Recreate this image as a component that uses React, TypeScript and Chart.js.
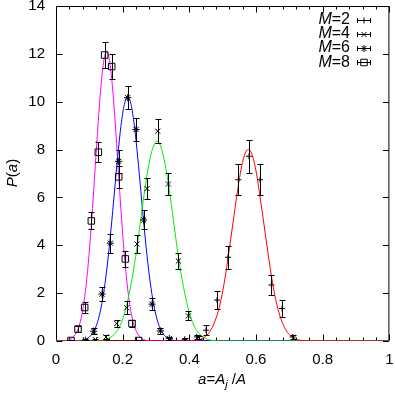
import React, { useEffect, useRef } from 'react';
import { Chart, registerables } from 'chart.js';

Chart.register(...registerables);

const FONT = "'Liberation Sans', Arial, Helvetica, sans-serif";

// ---- axis ticks ----
const xTicks = [0, 0.2, 0.4, 0.6, 0.8, 1];
const xMinorTicks = [0.04, 0.08, 0.12, 0.16, 0.24, 0.28, 0.32, 0.36, 0.44, 0.48, 0.52, 0.56, 0.64, 0.68, 0.72, 0.76, 0.84, 0.88, 0.92, 0.96];
const yTicks = [0, 2, 4, 6, 8, 10, 12, 14];

// ---- legend ----
const legendLabels = ['2', '4', '6', '8'];

// ---- measured data (M = 2, 4, 6, 8) ----
const m2X = [0.386, 0.422, 0.450, 0.483, 0.516, 0.547, 0.579, 0.612, 0.646, 0.678, 0.710];
const m2Y = [0.07, 0.17, 0.45, 1.71, 3.50, 6.74, 7.72, 6.74, 2.34, 1.36, 0.17];
const m2Err = [0.05, 0.08, 0.20, 0.36, 0.49, 0.64, 0.68, 0.64, 0.41, 0.35, 0.08];

const m4X = [0.118, 0.150, 0.182, 0.212, 0.243, 0.273, 0.305, 0.337, 0.367, 0.397, 0.428];
const m4Y = [0.06, 0.17, 0.73, 1.39, 4.05, 6.37, 8.77, 6.56, 3.34, 1.05, 0.14];
const m4Err = [0.04, 0.07, 0.15, 0.27, 0.38, 0.45, 0.49, 0.45, 0.33, 0.19, 0.06];

const m6X = [0.088, 0.113, 0.138, 0.163, 0.188, 0.215, 0.240, 0.263, 0.288, 0.313, 0.340];
const m6Y = [0.03, 0.41, 1.96, 4.09, 7.51, 10.17, 8.84, 5.06, 1.54, 0.42, 0.10];
const m6Err = [0.04, 0.12, 0.28, 0.40, 0.48, 0.49, 0.48, 0.40, 0.25, 0.12, 0.06];

const m8X = [0.045, 0.066, 0.086, 0.106, 0.127, 0.146, 0.167, 0.188, 0.208, 0.228, 0.248];
const m8Y = [0.02, 0.50, 1.40, 5.02, 7.89, 11.95, 11.47, 6.86, 3.43, 0.73, 0.02];
const m8Err = [0.04, 0.13, 0.23, 0.36, 0.43, 0.53, 0.52, 0.45, 0.33, 0.15, 0.04];

// ---- fitted curves ----
const redFitX = [0, 0.390, 0.4125, 0.436, 0.4595, 0.471, 0.483, 0.495, 0.5065, 0.518, 0.530, 0.542, 0.5535, 0.565, 0.577, 0.589, 0.6005, 0.612, 0.624, 0.636, 0.6475, 0.659, 0.671, 0.683, 0.6945, 0.718, 0.7415, 0.765, 1];
const redFitY = [0, 0.001, 0.018, 0.089, 0.351, 0.637, 1.082, 1.730, 2.598, 3.662, 4.852, 6.038, 7.060, 7.754, 8.0, 7.754, 7.060, 6.038, 4.852, 3.662, 2.598, 1.730, 1.082, 0.637, 0.351, 0.089, 0.018, 0.003, 0];

const greenFitX = [0, 0.110, 0.1315, 0.156, 0.1805, 0.193, 0.205, 0.217, 0.2295, 0.242, 0.254, 0.266, 0.2785, 0.291, 0.303, 0.315, 0.3275, 0.340, 0.352, 0.364, 0.3765, 0.389, 0.401, 0.413, 0.4255, 0.450, 0.4745, 0.496, 1];
const greenFitY = [0, 0.002, 0.018, 0.093, 0.367, 0.665, 1.130, 1.806, 2.711, 3.823, 5.064, 6.303, 7.369, 8.093, 8.35, 8.093, 7.369, 6.303, 5.064, 3.823, 2.711, 1.806, 1.130, 0.665, 0.367, 0.093, 0.018, 0.002, 0];

const blueFitX = [0, 0.055, 0.075, 0.095, 0.115, 0.125, 0.135, 0.145, 0.155, 0.165, 0.175, 0.185, 0.195, 0.205, 0.215, 0.225, 0.235, 0.245, 0.255, 0.265, 0.275, 0.285, 0.295, 0.305, 0.315, 0.335, 0.355, 0.375, 1];
const blueFitY = [0, 0.003, 0.022, 0.113, 0.448, 0.812, 1.380, 2.206, 3.312, 4.670, 6.186, 7.699, 9.002, 9.886, 10.2, 9.886, 9.002, 7.699, 6.186, 4.670, 3.312, 2.206, 1.380, 0.812, 0.448, 0.113, 0.022, 0.003, 0];

const magentaFitX = [0, 0.016, 0.033, 0.050, 0.067, 0.0755, 0.084, 0.0925, 0.101, 0.1095, 0.118, 0.1265, 0.135, 0.1435, 0.152, 0.1605, 0.169, 0.1775, 0.186, 0.1945, 0.203, 0.2115, 0.220, 0.2285, 0.237, 0.254, 0.271, 0.288, 1];
const magentaFitY = [0, 0.004, 0.027, 0.134, 0.531, 0.963, 1.637, 2.617, 3.929, 5.539, 7.339, 9.133, 10.678, 11.727, 12.1, 11.727, 10.678, 9.133, 7.339, 5.539, 3.929, 2.617, 1.637, 0.963, 0.531, 0.134, 0.027, 0.004, 0];

const zip = (xs: number[], ys: number[]) => xs.map((x, i) => ({ x, y: ys[i] }));

const symbolStyles = ['cross', 'crossRot', 'star', 'rect'];
const symbolRadius = [3, 3.6, 3.6, 4.6];

function drawSymbol(ctx: CanvasRenderingContext2D, style: string, r: number, x: number, y: number) {
  ctx.beginPath();
  if (style === 'cross' || style === 'star') {
    ctx.moveTo(x - r, y); ctx.lineTo(x + r, y);
    ctx.moveTo(x, y - r); ctx.lineTo(x, y + r);
  }
  if (style === 'crossRot' || style === 'star') {
    const d = r * Math.SQRT1_2;
    ctx.moveTo(x - d, y - d); ctx.lineTo(x + d, y + d);
    ctx.moveTo(x - d, y + d); ctx.lineTo(x + d, y - d);
  }
  if (style === 'rect') {
    const s = r * Math.SQRT1_2;
    ctx.rect(x - s, y - s, 2 * s, 2 * s);
  }
  ctx.stroke();
}

function drawRich(ctx: CanvasRenderingContext2D, parts: { t: string; it?: boolean; sub?: boolean }[], size: number, x: number, y: number, align: 'left' | 'center' | 'right') {
  const fontFor = (p: { it?: boolean; sub?: boolean }) => `${p.it ? 'italic ' : ''}${p.sub ? Math.round(size * 0.7) : size}px ${FONT}`;
  let total = 0;
  const widths = parts.map((p) => { ctx.font = fontFor(p); const w = ctx.measureText(p.t).width; total += w; return w; });
  let cx = align === 'left' ? x : align === 'center' ? x - total / 2 : x - total;
  ctx.textAlign = 'left';
  ctx.textBaseline = 'middle';
  parts.forEach((p, i) => {
    ctx.font = fontFor(p);
    ctx.fillText(p.t, cx, p.sub ? y + size * 0.3 : y);
    cx += widths[i];
  });
}

const framePlugin = {
  id: 'frameTicks',
  beforeDatasetsDraw(chart: any) {
    const { ctx, chartArea: a, scales } = chart;
    const xs = scales.x, ys = scales.y;
    ctx.save();
    ctx.strokeStyle = '#000';
    ctx.lineWidth = 1;
    ctx.strokeRect(a.left + 0.5, a.top + 0.5, a.right - a.left - 1, a.bottom - a.top - 1);
    ctx.beginPath();
    const bottom = a.bottom - 0.5, top = a.top + 0.5;
    xTicks.forEach((v) => {
      const px = Math.round(xs.getPixelForValue(v)) + 0.5;
      ctx.moveTo(px, bottom); ctx.lineTo(px, bottom - 6);
      ctx.moveTo(px, top); ctx.lineTo(px, top + 6);
    });
    xMinorTicks.forEach((v) => {
      const px = Math.round(xs.getPixelForValue(v)) + 0.5;
      ctx.moveTo(px, bottom); ctx.lineTo(px, bottom - 3);
      ctx.moveTo(px, top); ctx.lineTo(px, top + 3);
    });
    const left = a.left + 0.5, right = a.right - 0.5;
    yTicks.forEach((v) => {
      const py = Math.round(ys.getPixelForValue(v)) + 0.5;
      ctx.moveTo(left, py); ctx.lineTo(left + 6, py);
      ctx.moveTo(right, py); ctx.lineTo(right - 6, py);
    });
    ctx.stroke();
    ctx.restore();
  },
};

const errorBarPlugin = {
  id: 'errorBars',
  afterDatasetsDraw(chart: any) {
    const { ctx, chartArea: a, scales } = chart;
    const xs = scales.x, ys = scales.y;
    ctx.save();
    ctx.beginPath();
    ctx.rect(a.left, a.top, a.right - a.left, a.bottom - a.top);
    ctx.clip();
    ctx.strokeStyle = '#000';
    ctx.lineWidth = 1;
    chart.data.datasets.forEach((ds: any) => {
      if (!ds.errors) return;
      ds.data.forEach((p: any, j: number) => {
        const e = ds.errors[j];
        const px = Math.round(xs.getPixelForValue(p.x)) + 0.5;
        const y1 = Math.round(ys.getPixelForValue(p.y - e)) + 0.5;
        const y2 = Math.round(ys.getPixelForValue(p.y + e)) + 0.5;
        ctx.beginPath();
        ctx.moveTo(px, y1); ctx.lineTo(px, y2);
        ctx.moveTo(px - 3, y1); ctx.lineTo(px + 3, y1);
        ctx.moveTo(px - 3, y2); ctx.lineTo(px + 3, y2);
        ctx.stroke();
      });
    });
    ctx.restore();
  },
};

const textPlugin = {
  id: 'texts',
  afterDraw(chart: any) {
    const { ctx } = chart;
    ctx.save();
    ctx.fillStyle = '#000';
    ctx.strokeStyle = '#000';
    ctx.lineWidth = 1;
    // legend
    legendLabels.forEach((lab, i) => {
      const y = 19.5 + i * 14.2;
      drawRich(ctx, [{ t: 'M', it: true }, { t: '=' + lab }], 16, 350, y, 'right');
      const yy = Math.round(y) + 0.5;
      ctx.beginPath();
      ctx.moveTo(357, yy); ctx.lineTo(371, yy);
      ctx.moveTo(357.5, yy - 2.5); ctx.lineTo(357.5, yy + 2.5);
      ctx.moveTo(370.5, yy - 2.5); ctx.lineTo(370.5, yy + 2.5);
      ctx.stroke();
      drawSymbol(ctx, symbolStyles[i], symbolRadius[i], 364, yy);
    });
    // x title
    drawRich(ctx, [
      { t: 'a', it: true }, { t: '=' }, { t: 'A', it: true }, { t: 'j', it: true, sub: true }, { t: ' /' }, { t: 'A', it: true },
    ], 15, 222, 380, 'center');
    // y title
    ctx.translate(13, 173);
    ctx.rotate(-Math.PI / 2);
    drawRich(ctx, [{ t: 'P', it: true }, { t: '(' }, { t: 'a', it: true }, { t: ')' }], 15, 0, 0, 'center');
    ctx.restore();
  },
};

export default function App() {
  const ref = useRef<HTMLCanvasElement>(null);
  useEffect(() => {
    const canvas = ref.current!;
    const curve = (xs: number[], ys: number[], color: string) => ({
      data: zip(xs, ys),
      showLine: true,
      borderColor: color,
      borderWidth: 1,
      pointRadius: 0,
      cubicInterpolationMode: 'monotone',
      order: 2,
    });
    const points = (xs: number[], ys: number[], errs: number[], i: number) => ({
      data: zip(xs, ys),
      errors: errs,
      showLine: false,
      pointStyle: symbolStyles[i],
      pointRadius: symbolRadius[i],
      borderColor: '#000',
      backgroundColor: 'rgba(0,0,0,0)',
      borderWidth: 1,
      order: 1,
    });
    const chart = new Chart(canvas, {
      type: 'scatter',
      data: {
        datasets: [
          curve(redFitX, redFitY, '#ff0000'),
          curve(greenFitX, greenFitY, '#00ee00'),
          curve(blueFitX, blueFitY, '#0000ff'),
          curve(magentaFitX, magentaFitY, '#ff00ff'),
          points(m2X, m2Y, m2Err, 0),
          points(m4X, m4Y, m4Err, 1),
          points(m6X, m6Y, m6Err, 2),
          points(m8X, m8Y, m8Err, 3),
        ] as any,
      },
      options: {
        responsive: false,
        devicePixelRatio: 1,
        animation: false,
        events: [],
        layout: { padding: { left: 0, right: 5, top: 6, bottom: 0 } },
        plugins: { legend: { display: false }, tooltip: { enabled: false } },
        scales: {
          x: {
            type: 'linear',
            min: 0,
            max: 1,
            afterBuildTicks: (s: any) => { s.ticks = xTicks.map((v) => ({ value: v })); },
            afterFit: (s: any) => { s.height = 54; s.paddingLeft = 0; s.paddingRight = 0; s.paddingTop = 0; s.paddingBottom = 0; },
            ticks: {
              color: '#000',
              font: { family: FONT, size: 15 },
              padding: 10,
              maxRotation: 0,
              autoSkip: false,
              callback: (v: any) => String(+Number(v).toFixed(2)),
            },
            grid: { display: false, drawTicks: false },
            border: { display: false },
          },
          y: {
            type: 'linear',
            min: 0,
            max: 14,
            afterBuildTicks: (s: any) => { s.ticks = yTicks.map((v) => ({ value: v })); },
            afterFit: (s: any) => { s.width = 56; s.paddingLeft = 0; s.paddingRight = 0; s.paddingTop = 0; s.paddingBottom = 0; },
            ticks: {
              color: '#000',
              font: { family: FONT, size: 15 },
              padding: 11,
              autoSkip: false,
              callback: (v: any) => String(v),
            },
            grid: { display: false, drawTicks: false },
            border: { display: false },
          },
        },
      } as any,
      plugins: [framePlugin, errorBarPlugin, textPlugin],
    });
    return () => chart.destroy();
  }, []);
  return (
    <div style={{ position: 'fixed', left: 0, top: 0, width: 395, height: 395, background: '#fff' }}>
      <canvas ref={ref} width={395} height={395} style={{ display: 'block', width: 395, height: 395 }} />
    </div>
  );
}
